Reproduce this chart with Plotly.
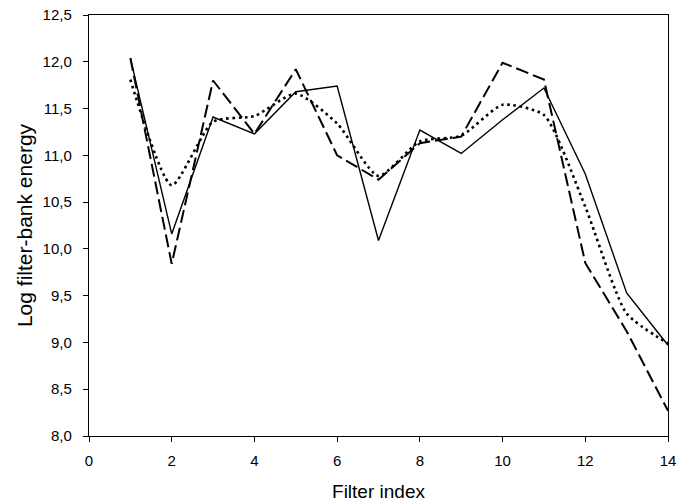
import plotly.graph_objects as go

filter_index = list(range(1, 15))
solid_vals = [12.04, 10.16, 11.41, 11.23, 11.68, 11.74, 10.09, 11.27, 11.02, 11.38, 11.72, 10.80, 9.53, 8.97]
dashed_vals = [12.04, 9.84, 11.80, 11.23, 11.92, 11.00, 10.74, 11.13, 11.20, 11.99, 11.81, 9.85, 9.12, 8.27]
dotted_vals = [11.81, 10.68, 11.36, 11.42, 11.66, 11.34, 10.78, 11.15, 11.21, 11.54, 11.43, 10.45, 9.31, 8.99]

fig = go.Figure()
fig.add_trace(go.Scatter(x=filter_index, y=dotted_vals, mode="lines",
                         line=dict(color="black", width=2.6, dash="2.6px,3.6px", shape="spline", smoothing=0.6),
                         name="dotted"))
fig.add_trace(go.Scatter(x=filter_index, y=dashed_vals, mode="lines",
                         line=dict(color="black", width=2.0, dash="13px,5px"),
                         name="dashed"))
fig.add_trace(go.Scatter(x=filter_index, y=solid_vals, mode="lines",
                         line=dict(color="black", width=1.4),
                         name="solid"))

fig.update_layout(
    width=678, height=502,
    margin=dict(l=88.5, r=10, t=15, b=66),
    paper_bgcolor="white", plot_bgcolor="white",
    showlegend=False,
    separators=",.",
    font=dict(family="Liberation Sans, Arial, sans-serif", color="black", size=15),
)
fig.update_xaxes(
    range=[0, 14], tickmode="linear", tick0=0, dtick=2,
    showgrid=False, zeroline=False, automargin=False,
    showline=True, linecolor="black", linewidth=1.4, mirror=True,
    ticks="outside", ticklen=5, tickwidth=1.3, tickcolor="black",
    ticklabelstandoff=6, ticklabeloverflow="allow",
    tickfont=dict(size=15),
    title=dict(text="Filter index", font=dict(size=19), standoff=22),
)
fig.update_yaxes(
    range=[8.0, 12.5], tickmode="linear", tick0=8.0, dtick=0.5, tickformat=".1f",
    showgrid=False, zeroline=False, automargin=False,
    showline=True, linecolor="black", linewidth=1.4, mirror=True,
    ticks="outside", ticklen=5, tickwidth=1.3, tickcolor="black",
    ticklabelstandoff=8, ticklabeloverflow="allow",
    tickfont=dict(size=15),
    title=dict(text="Log filter-bank energy", font=dict(size=21), standoff=4),
)

fig.write_html(
    "out.html",
    config={"displayModeBar": False},
    post_script="document.body.style.margin='0';document.body.style.overflow='hidden';",
)
